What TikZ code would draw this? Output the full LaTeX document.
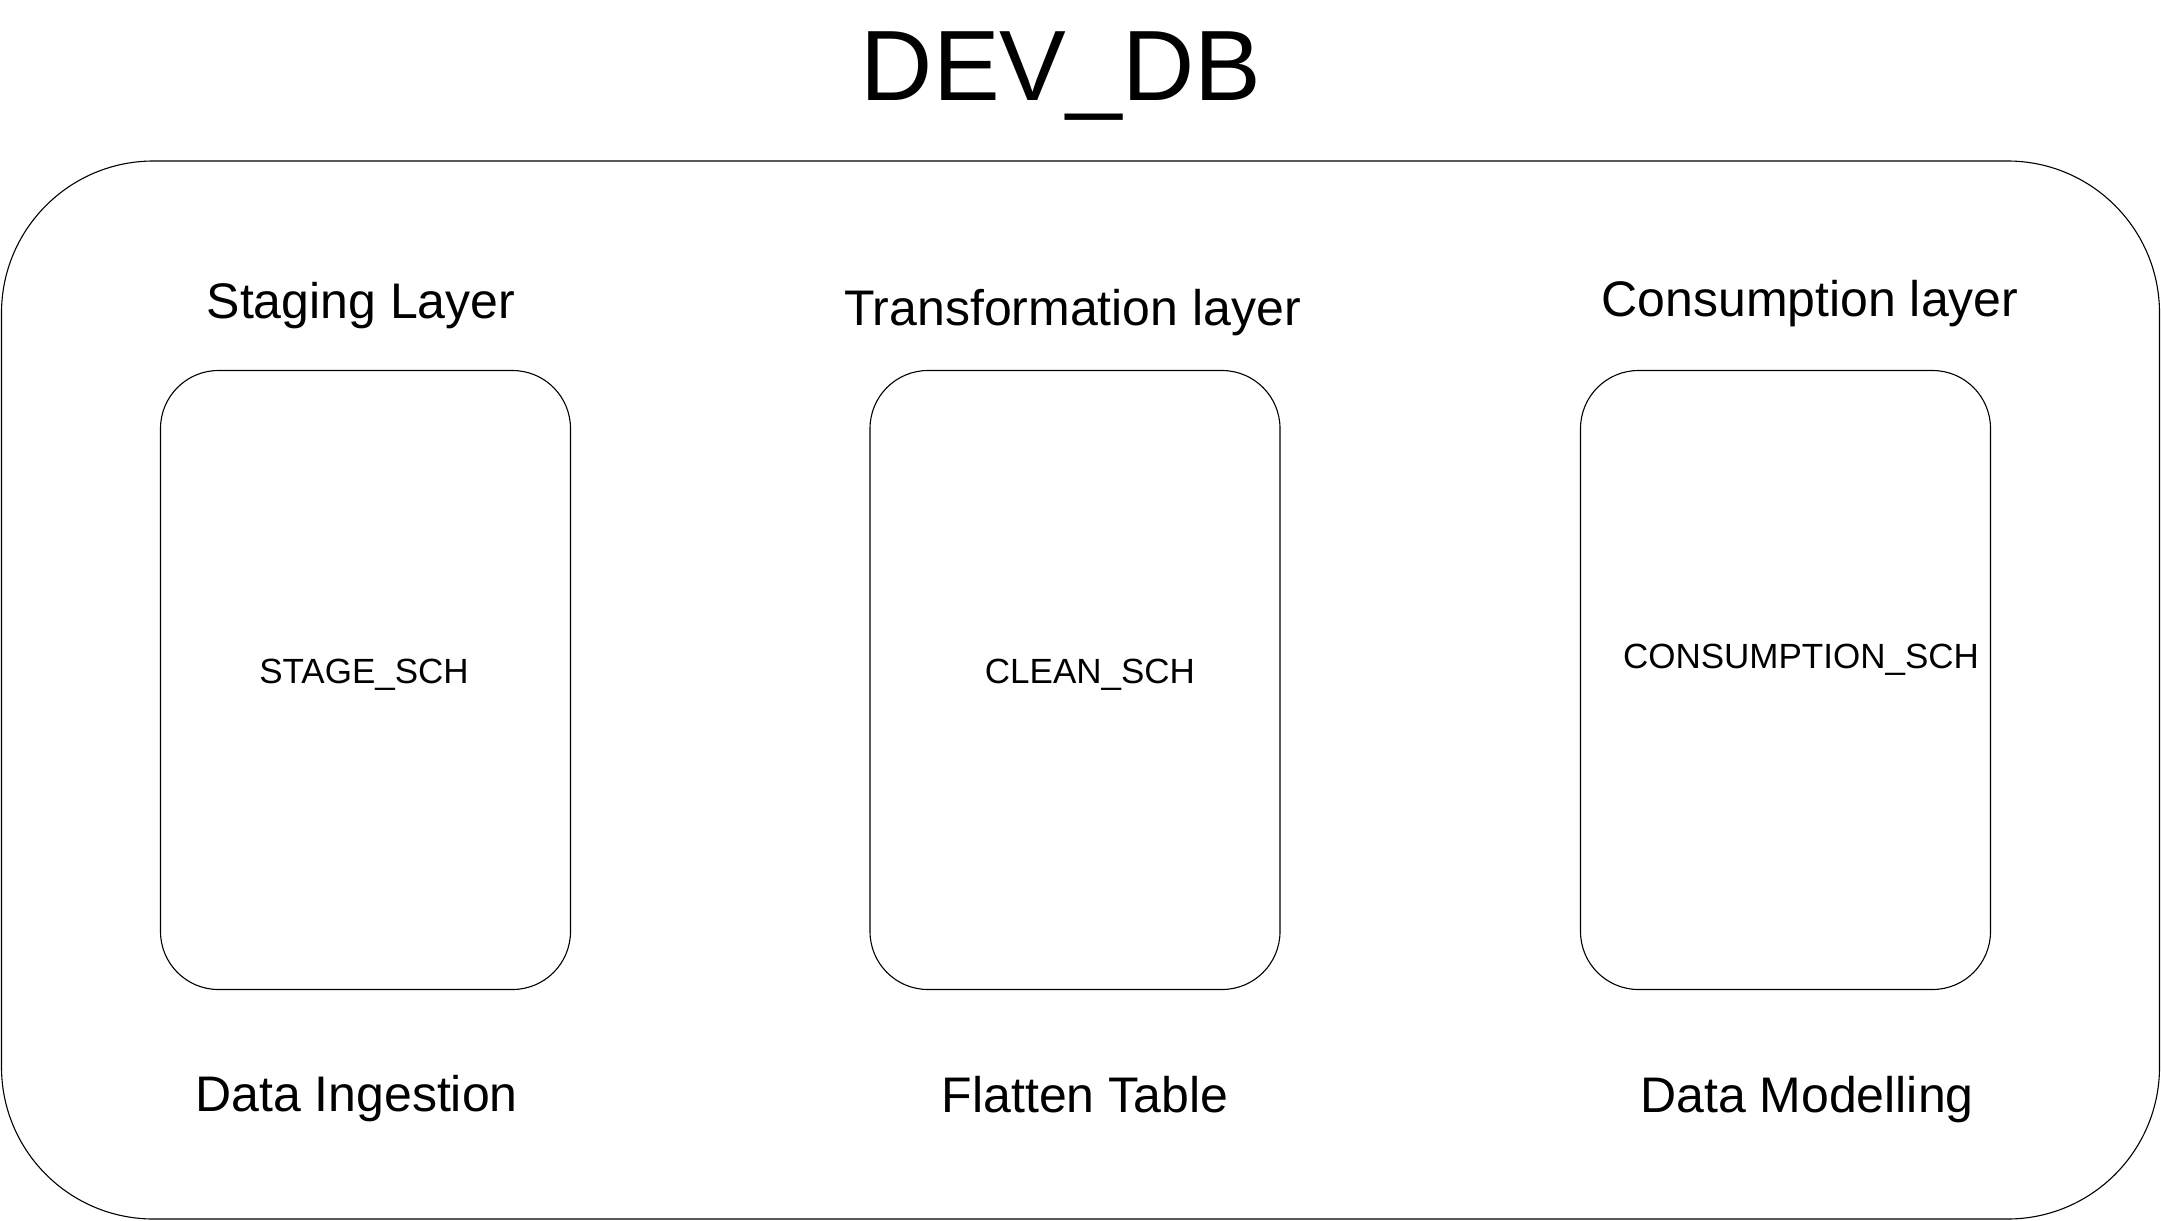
\documentclass[tikz,border=0pt]{standalone}
\usepackage{fontspec}
\setmainfont{Liberation Sans}
\usepackage{tikz}
\usetikzlibrary{positioning}

\begin{document}
\begin{tikzpicture}[x=1pt, y=-1pt,
  dbbox/.style={draw, line width=1.1pt, rounded corners=152pt, minimum width=2158pt, minimum height=1058pt, inner sep=0pt},
  schbox/.style={draw, line width=1.1pt, rounded corners=58pt, minimum width=410pt, minimum height=619pt, inner sep=0pt},
  titletext/.style={anchor=base, inner sep=0pt, font=\fontsize{100}{120}\selectfont},
  layertext/.style={anchor=base, inner sep=0pt, font=\fontsize{50}{60}\selectfont},
  schtext/.style={anchor=base, inner sep=0pt, font=\fontsize{35}{42}\selectfont}]

  % Page frame
  \useasboundingbox (0,0) rectangle (2161,1221);

  % Database container
  \node[dbbox] (devdb) at (1080.5,690) {};
  \node[titletext] (dbtitle) at (1061,100) {DEV\_DB};

  % Schema boxes
  \node[schbox] (stage) at (365.5,680) {};
  \node[schbox] (clean) at (1075,680) {};
  \node[schbox] (consume) at (1785.5,680) {};

  % Layer names (top)
  \node[layertext] (stagelayer) at (361,318.3) {Staging Layer};
  \node[layertext] (cleanlayer) at (1072.5,325) {Transformation layer};
  \node[layertext] (consumelayer) at (1810,316.7) {Consumption layer};

  % Schema names
  \node[schtext] (stagename) at (364,683.3) {STAGE\_SCH};
  \node[schtext] (cleanname) at (1090,683.3) {CLEAN\_SCH};
  \node[schtext] (consumename) at (1801,668.3) {CONSUMPTION\_SCH};

  % Purpose (bottom)
  \node[layertext] (stagejob) at (356.5,1111.7) {Data Ingestion};
  \node[layertext] (cleanjob) at (1085,1112.5) {Flatten Table};
  \node[layertext] (consumejob) at (1807,1112) {Data Modelling};

\end{tikzpicture}
\end{document}
